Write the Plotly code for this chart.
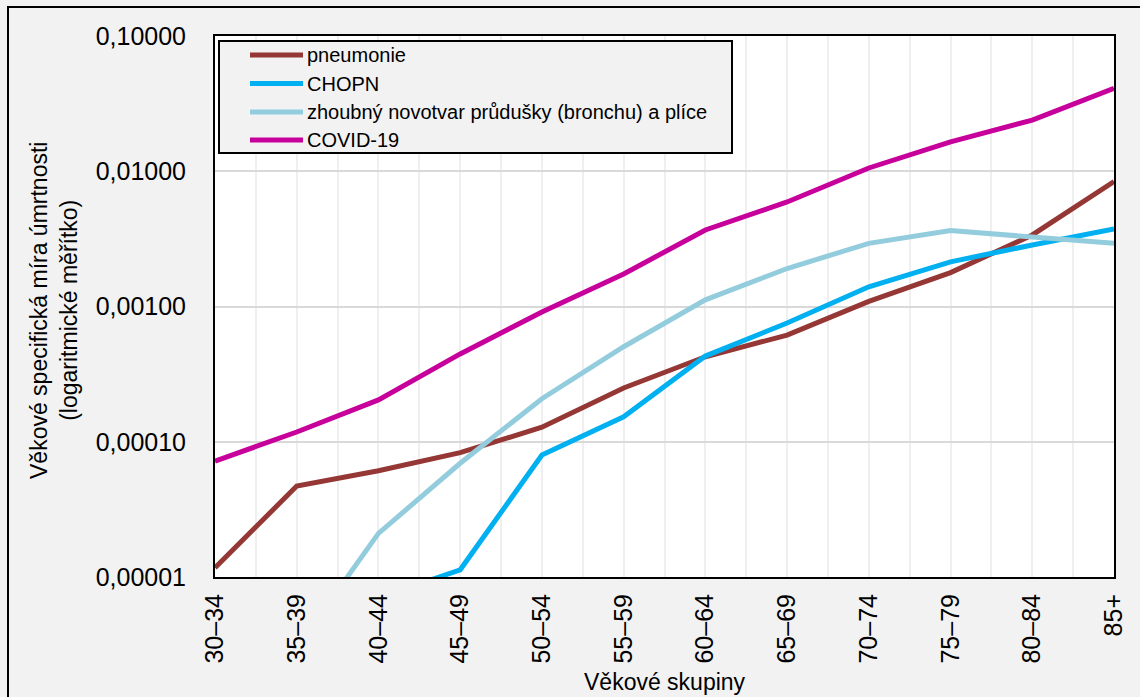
import plotly.graph_objects as go

# Age groups and age-specific mortality rates (log scale)
categories = ["30–34", "35–39", "40–44", "45–49", "50–54", "55–59",
              "60–64", "65–69", "70–74", "75–79", "80–84", "85+"]
pneumonie = [1.17e-5, 4.7e-5, 6.1e-5, 8.3e-5, 1.28e-4, 2.5e-4,
             4.25e-4, 6.15e-4, 1.09e-3, 1.78e-3, 3.38e-3, 8.4e-3]
chopn = [None, None, 7.0e-6, 1.13e-5, 7.98e-5, 1.53e-4,
         4.3e-4, 7.55e-4, 1.40e-3, 2.14e-3, 2.85e-3, 3.74e-3]
zhoubny = [None, 3.0e-6, 2.1e-5, 6.93e-5, 2.08e-4, 5.04e-4,
           1.12e-3, 1.91e-3, 2.93e-3, 3.64e-3, 3.25e-3, 2.93e-3]
covid = [7.2e-5, 1.18e-4, 2.04e-4, 4.46e-4, 9.1e-4, 1.74e-3,
         3.68e-3, 5.93e-3, 1.057e-2, 1.65e-2, 2.39e-2, 4.1e-2]

y_ticks = [1e-5, 1e-4, 1e-3, 1e-2, 1e-1]
y_ticktext = ["0,00001", "0,00010", "0,00100", "0,01000", "0,10000"]

series = [
    ("pneumonie", pneumonie, "#953735"),
    ("CHOPN", chopn, "#00B0F0"),
    ("zhoubný novotvar průdušky (bronchu) a plíce", zhoubny, "#93CDDD"),
    ("COVID-19", covid, "#C8009B"),
]

FONT = "Liberation Sans, Arial, sans-serif"
W, H = 1140, 697
L, R, T, B = 215, 26, 36, 120
pw, ph = W - L - R, H - T - B

xpos = list(range(len(categories)))

fig = go.Figure()
for name, vals, color in series:
    fig.add_trace(go.Scatter(
        x=xpos, y=vals, name=name, mode="lines",
        line=dict(color=color, width=5), connectgaps=False,
        showlegend=False,
    ))


def px_x(p):
    return (p - L) / pw


def px_y(p):
    return (H - B - p) / ph


# Outer frame and legend box in the upper-left corner of the plot
shapes = [
    dict(type="rect", xref="paper", yref="paper",
         x0=px_x(8), y0=px_y(7), x1=px_x(1160), y1=px_y(720),
         line=dict(color="black", width=2), fillcolor="rgba(0,0,0,0)"),
    dict(type="rect", xref="paper", yref="paper",
         x0=px_x(219), y0=px_y(41), x1=px_x(732), y1=px_y(153),
         line=dict(color="black", width=2), fillcolor="#F2F2F2"),
]
annotations = [
    dict(text="Věkové skupiny", xref="paper", yref="paper",
         x=0.5, y=px_y(682), xanchor="center", yanchor="middle",
         showarrow=False, font=dict(size=23)),
    dict(text="Věkové specifická míra úmrtnosti<br>(logaritmické měřítko)",
         xref="paper", yref="paper", x=px_x(54), y=px_y(311),
         xanchor="center", yanchor="middle", textangle=-90,
         showarrow=False, font=dict(size=23)),
]
row_y = [55, 83.5, 112, 140]
for (name, _, color), ry in zip(series, row_y):
    shapes.append(dict(type="line", xref="paper", yref="paper",
                       x0=px_x(250), x1=px_x(303), y0=px_y(ry), y1=px_y(ry),
                       line=dict(color=color, width=5)))
    annotations.append(dict(text=name, xref="paper", yref="paper",
                            x=px_x(305), y=px_y(ry), xanchor="left",
                            yanchor="middle", showarrow=False,
                            font=dict(size=20)))

fig.update_layout(
    width=W, height=H,
    margin=dict(l=L, r=R, t=T, b=B),
    paper_bgcolor="#F2F2F2",
    plot_bgcolor="white",
    font=dict(family=FONT, color="black"),
    showlegend=False,
    xaxis=dict(
        range=[0, len(categories) - 1],
        tickvals=xpos, ticktext=categories, tickangle=-90,
        tickfont=dict(size=25), ticks="",
        showgrid=True, gridcolor="#EFEFEF", gridwidth=2,
        minor=dict(dtick=0.5, tick0=0, showgrid=True,
                   gridcolor="#EFEFEF", gridwidth=2),
        showline=True, linecolor="black", linewidth=2, mirror=True,
        zeroline=False, ticklabelstandoff=5,
    ),
    yaxis=dict(
        type="log", range=[-5, -1],
        tickvals=y_ticks, ticktext=y_ticktext,
        tickfont=dict(size=25), ticks="",
        showgrid=True, gridcolor="#D9D9D9", gridwidth=2,
        showline=True, linecolor="black", linewidth=2, mirror=True,
        zeroline=False, ticklabelstandoff=22,
    ),
    annotations=annotations,
    shapes=shapes,
)

fig.write_html("out.html")
